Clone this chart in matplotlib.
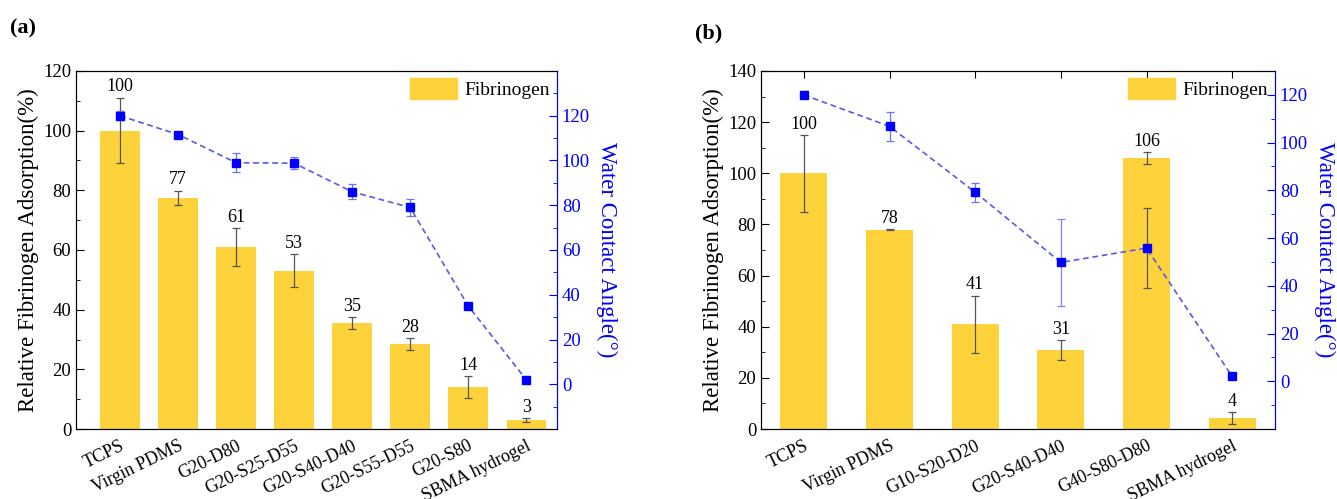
import matplotlib
matplotlib.use('Agg')
import matplotlib.pyplot as plt
from matplotlib.patches import Patch
from matplotlib.ticker import MultipleLocator
from matplotlib.transforms import ScaledTranslation

plt.rcParams['font.family'] = ['Liberation Serif', 'DejaVu Serif']

# ---------------- data ----------------
cats_a = ['TCPS', 'Virgin PDMS', 'G20-D80', 'G20-S25-D55', 'G20-S40-D40',
          'G20-S55-D55', 'G20-S80', 'SBMA hydrogel']
fib_a = [100, 77.5, 61, 53, 35.5, 28.5, 14, 3]
fib_err_a = [11, 2.4, 6.3, 5.5, 2.0, 1.9, 3.7, 0.6]
fib_lbl_a = ['100', '77', '61', '53', '35', '28', '14', '3']
wca_a = [120, 111.6, 99, 98.8, 86, 79, 35, 2]
wca_err_a = [2, 1, 4.3, 2.8, 3.4, 3.9, 1, 0.5]

cats_b = ['TCPS', 'Virgin PDMS', 'G10-S20-D20', 'G20-S40-D40', 'G40-S80-D80',
          'SBMA hydrogel']
fib_b = [100, 78, 41, 31, 106, 4.3]
fib_err_b = [15, 0.3, 11.2, 3.9, 2.3, 2.3]
fib_lbl_b = ['100', '78', '41', '31', '106', '4']
wca_b = [120, 106.8, 79.2, 49.8, 55.8, 2]
wca_err_b = [1.5, 6.2, 3.9, 18.2, 16.7, 1]

BAR = '#FDD23A'
LINE_C = '#5a5ae6'
MARK_C = '#0000ff'

W, H = 1337, 499


def rect(x0, y0, x1, y1):
    return [x0 / W, 1 - y1 / H, (x1 - x0) / W, (y1 - y0) / H]


def panel(r, cats, fib, ferr, flbl, wca, werr, ylim_l, ylim_r, xlim,
          width, top_ticks, wca_err_colors):
    ax = fig.add_axes(r)
    x = list(range(len(cats)))
    ax.bar(x, fib, width=width, color=BAR, zorder=2)
    ax.errorbar(x, fib, yerr=ferr, fmt='none', ecolor='#555555',
                elinewidth=0.9, capsize=3, capthick=0.9, zorder=3)
    for xi, v, e, l in zip(x, fib, ferr, flbl):
        ax.text(xi, v + e + 0.8, l, ha='center', va='bottom', fontsize=13)
    ax.set_xlim(*xlim)
    ax.set_ylim(*ylim_l)
    ax.yaxis.set_major_locator(MultipleLocator(20))
    ax.yaxis.set_minor_locator(MultipleLocator(10))
    ax.set_xticks(x)
    ax.set_xticklabels(cats, rotation=26, ha='right', va='top',
                       rotation_mode='anchor', fontsize=13)
    off = ScaledTranslation(0.14, -0.04, fig.dpi_scale_trans)
    for lab in ax.get_xticklabels():
        lab.set_transform(lab.get_transform() + off)
    ax.tick_params(axis='y', which='major', direction='in', length=6,
                   labelsize=13.5)
    ax.tick_params(axis='y', which='minor', direction='in', length=3)
    ax.tick_params(axis='x', direction='in', length=5, pad=6, top=top_ticks)
    ax.set_ylabel('Relative Fibrinogen Adsorption(%)', fontsize=16.5,
                  labelpad=3)

    ax2 = ax.twinx()
    ax2.plot(x, wca, linestyle=(0, (3.5, 2.2)), color=LINE_C, lw=1.2,
             zorder=4)
    for xi, v, e, c in zip(x, wca, werr, wca_err_colors):
        ax2.errorbar([xi], [v], yerr=[e], fmt='none', ecolor=c,
                     elinewidth=0.9, capsize=3, capthick=0.9, zorder=4)
    ax2.plot(x, wca, linestyle='none', marker='s', color=MARK_C,
             markersize=5.5, zorder=5)
    ax2.set_ylim(*ylim_r)
    ax2.set_yticks(range(0, 121, 20))
    ax2.yaxis.set_minor_locator(MultipleLocator(10))
    ax2.tick_params(axis='y', which='major', direction='in', length=6,
                    colors='blue', labelsize=13.5)
    ax2.tick_params(axis='y', which='minor', direction='in', length=3,
                    colors='blue')
    ax2.spines['right'].set_color('blue')
    ax2.set_ylabel('Water Contact Angle(°)', rotation=-90, va='bottom',
                   color='blue', fontsize=16.5, labelpad=4)
    ax2.legend(handles=[Patch(color=BAR, label='Fibrinogen')],
               loc='upper right', frameon=False, fontsize=14,
               handlelength=2.4, handleheight=1.3, handletextpad=0.4,
               borderaxespad=0.15, borderpad=0.2)
    return ax, ax2


fig = plt.figure(figsize=(W / 100, H / 100), dpi=100)

panel(rect(76, 71, 557, 429),
      cats_a, fib_a, fib_err_a, fib_lbl_a, wca_a, wca_err_a,
      (0, 120), (-20, 140), (-0.76, 7.53), 0.68, False,
      ['#7070ff'] * len(cats_a))
panel(rect(761, 71, 1275, 429),
      cats_b, fib_b, fib_err_b, fib_lbl_b, wca_b, wca_err_b,
      (0, 140), (-20, 130), (-0.5, 5.5), 0.55, True,
      ['#7070ff', '#7070ff', '#7070ff', '#8080ff', '#555566', '#7070ff'])

fig.text(10 / W, 1 - 28 / H, '(a)', fontsize=16, fontweight='bold',
         va='center', ha='left')
fig.text(695 / W, 1 - 33 / H, '(b)', fontsize=16, fontweight='bold',
         va='center', ha='left')

fig.savefig('out.png', dpi=100)
